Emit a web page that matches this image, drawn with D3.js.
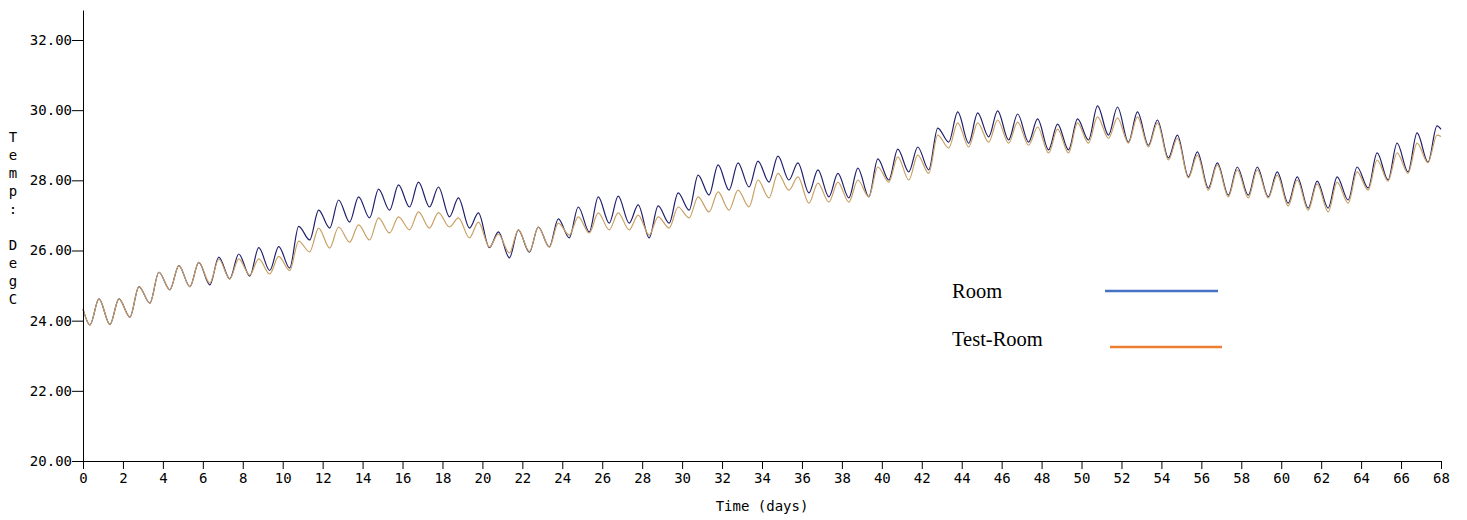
<!DOCTYPE html>
<html>
<head>
<meta charset="utf-8">
<script src="https://cdn.jsdelivr.net/npm/d3@7"></script>
<style>
  body { margin: 0; background: #fff; }
  .axis text { font-family: "DejaVu Sans Mono", monospace; font-size: 14px; fill: #000; }
  .axis path, .axis line { stroke: #000; }
</style>
</head>
<body>
<div id="chart"></div>
<script>
// daily lows (early morning) and highs (afternoon), Deg C, one per day 0..67
var roomLow = [23.88, 23.89, 24.10, 24.50, 24.88, 24.97, 25.02, 25.19, 25.27, 25.43,
  25.50, 26.30, 26.64, 26.81, 26.93, 27.15, 27.24, 27.24, 26.96, 26.64,
  26.08, 25.79, 25.95, 26.10, 26.36, 26.53, 26.78, 26.78, 26.36, 26.78,
  27.15, 27.58, 27.72, 27.81, 27.95, 28.01, 27.64, 27.53, 27.50, 27.53,
  28.01, 28.24, 28.30, 29.09, 29.06, 29.24, 29.15, 29.09, 28.87, 28.87,
  29.15, 29.29, 29.09, 29.00, 28.64, 28.10, 27.78, 27.58, 27.58, 27.53,
  27.35, 27.21, 27.21, 27.44, 27.78, 28.01, 28.24, 28.52];
var roomHigh = [24.62, 24.62, 24.97, 25.38, 25.57, 25.66, 25.81, 25.90, 26.08, 26.11,
  26.69, 27.15, 27.44, 27.53, 27.75, 27.87, 27.95, 27.81, 27.50, 27.07,
  26.53, 26.59, 26.67, 26.90, 27.24, 27.53, 27.55, 27.30, 27.27, 27.64,
  28.15, 28.44, 28.50, 28.55, 28.69, 28.50, 28.30, 28.20, 28.35, 28.61,
  28.89, 28.95, 29.49, 29.95, 29.92, 29.98, 29.89, 29.75, 29.60, 29.75,
  30.12, 30.09, 29.95, 29.72, 29.29, 28.81, 28.50, 28.38, 28.38, 28.24,
  28.10, 27.98, 28.10, 28.38, 28.78, 29.06, 29.35, 29.55];
var testLow = [23.88, 23.89, 24.10, 24.50, 24.88, 24.97, 25.07, 25.19, 25.30, 25.33,
  25.43, 25.96, 26.07, 26.24, 26.30, 26.50, 26.59, 26.64, 26.67, 26.36,
  26.10, 25.93, 25.97, 26.10, 26.44, 26.50, 26.59, 26.59, 26.44, 26.64,
  26.93, 27.10, 27.15, 27.24, 27.50, 27.72, 27.35, 27.38, 27.38, 27.53,
  27.95, 28.01, 28.20, 28.92, 28.95, 29.09, 29.06, 29.00, 28.78, 28.78,
  29.06, 29.20, 29.06, 28.95, 28.58, 28.07, 27.72, 27.53, 27.50, 27.50,
  27.27, 27.15, 27.10, 27.35, 27.72, 27.98, 28.20, 28.50];
var testHigh = [24.62, 24.62, 24.97, 25.38, 25.57, 25.66, 25.75, 25.76, 25.76, 25.83,
  26.27, 26.64, 26.67, 26.73, 26.93, 26.96, 27.10, 27.08, 26.93, 26.81,
  26.47, 26.59, 26.67, 26.78, 26.96, 27.07, 27.07, 27.01, 26.96, 27.24,
  27.53, 27.67, 27.72, 28.01, 28.20, 28.10, 27.92, 27.95, 28.01, 28.38,
  28.67, 28.72, 29.29, 29.64, 29.64, 29.72, 29.66, 29.52, 29.46, 29.64,
  29.81, 29.78, 29.81, 29.64, 29.20, 28.72, 28.44, 28.30, 28.30, 28.15,
  28.01, 27.90, 27.95, 28.24, 28.58, 28.78, 29.06, 29.29];
var roomEnds = [24.33, 29.45];
var testEnds = [24.33, 29.25];

var xTicks = d3.range(0, 69, 2);
var yTicks = [20, 22, 24, 26, 28, 30, 32];
var yLabel = "Temp: DegC";
var series = [
  {name: "Room", low: roomLow, high: roomHigh, ends: roomEnds, plot: "#1f1f6b", key: "#4472c4"},
  {name: "Test-Room", low: testLow, high: testHigh, ends: testEnds, plot: "#c9a064", key: "#ed7d31"}
];

var width = 1467, height = 520;

var svg = d3.select("#chart").append("svg")
  .attr("width", width)
  .attr("height", height);

var x = d3.scaleLinear().domain([0, 68]).range([83, 1441]);
var y = d3.scaleLinear().domain([20, 32.855]).range([461, 10]);

// turn the daily low/high pairs into a time series
function points(s) {
  var pts = [[0, s.ends[0]]];
  s.low.forEach(function(v, d) {
    pts.push([d + 0.35, v]);
    pts.push([d + 0.8, s.high[d]]);
  });
  pts.push([68, s.ends[1]]);
  return pts;
}

var line = d3.line()
  .x(function(d) { return x(d[0]); })
  .y(function(d) { return y(d[1]); })
  .curve(d3.curveMonotoneX);

svg.selectAll("path.series")
  .data(series)
  .join("path")
  .attr("class", "series")
  .attr("fill", "none")
  .attr("stroke", function(d) { return d.plot; })
  .attr("stroke-width", 1.2)
  .attr("d", function(d) { return line(points(d)); });

// axes
svg.append("g")
  .attr("class", "axis")
  .attr("transform", "translate(0,461)")
  .call(d3.axisBottom(x).tickValues(xTicks).tickSize(8).tickSizeOuter(0).tickFormat(d3.format("d")))
  .call(function(g) { g.selectAll("text").attr("y", 11).attr("dy", "0.75em"); });

svg.append("g")
  .attr("class", "axis")
  .attr("transform", "translate(83,0)")
  .call(d3.axisLeft(y).tickValues(yTicks).tickSize(11).tickSizeOuter(0).tickFormat(d3.format(".2f")))
  .call(function(g) { g.selectAll("text").attr("x", -11); });

svg.append("text")
  .attr("x", 762)
  .attr("y", 511)
  .attr("text-anchor", "middle")
  .style("font-family", "DejaVu Sans Mono, monospace")
  .style("font-size", "14px")
  .text("Time (days)");

// stacked y label, one character per row
svg.append("g")
  .selectAll("text")
  .data(yLabel.split(""))
  .join("text")
  .attr("x", 13)
  .attr("y", function(d, i) { return 142 + i * 18; })
  .attr("text-anchor", "middle")
  .style("font-family", "DejaVu Sans Mono, monospace")
  .style("font-size", "14px")
  .text(function(d) { return d; });

// legend
var legend = svg.append("g");
legend.selectAll("text")
  .data(series)
  .join("text")
  .attr("x", 952)
  .attr("y", function(d, i) { return 298 + i * 48; })
  .style("font-family", "Liberation Serif, Times New Roman, serif")
  .style("font-size", "20.5px")
  .text(function(d) { return d.name; });

legend.selectAll("line")
  .data(series)
  .join("line")
  .attr("x1", function(d, i) { return 1105 + i * 5; })
  .attr("x2", function(d, i) { return 1218 + i * 4; })
  .attr("y1", function(d, i) { return 291 + i * 56; })
  .attr("y2", function(d, i) { return 291 + i * 56; })
  .attr("stroke", function(d) { return d.key; })
  .attr("stroke-width", 2.5);
</script>
</body>
</html>
